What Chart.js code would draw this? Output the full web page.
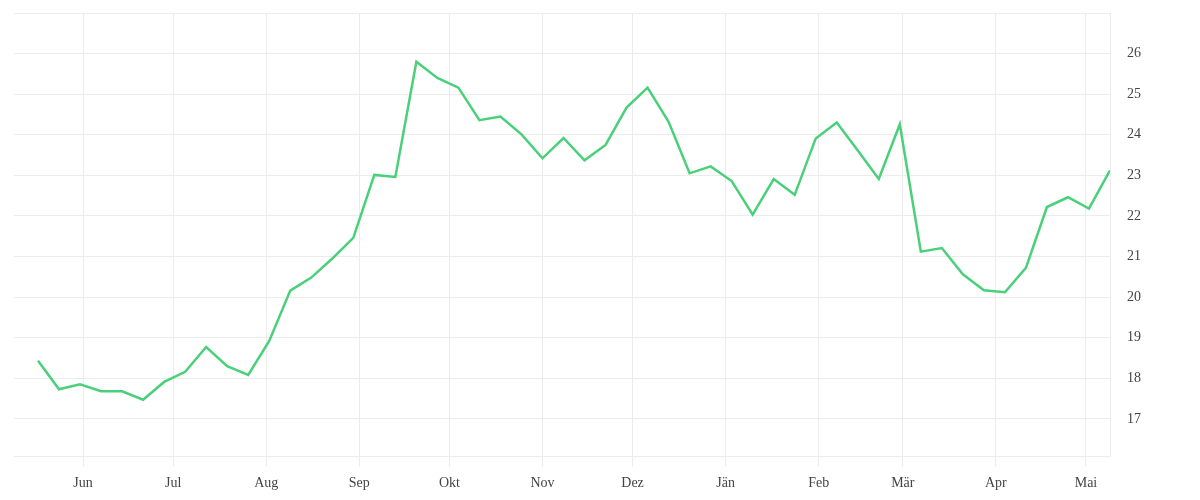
<!DOCTYPE html>
<html>
<head>
<meta charset="utf-8">
<script src="https://cdn.jsdelivr.net/npm/chart.js@4/dist/chart.umd.min.js"></script>
<style>
    html, body { margin: 0; padding: 0; background: #fff; }
    #wrap { width: 1200px; height: 500px; }
</style>
</head>
<body>
<div id="wrap"><canvas id="lineChart"></canvas></div>
<script>
// weekly points
var weekDates = [
    '2022-05-17', '2022-05-24', '2022-05-31', '2022-06-07', '2022-06-14', '2022-06-21', '2022-06-28',
    '2022-07-05', '2022-07-12', '2022-07-19', '2022-07-26', '2022-08-02', '2022-08-09', '2022-08-16',
    '2022-08-23', '2022-08-30', '2022-09-06', '2022-09-13', '2022-09-20', '2022-09-27', '2022-10-04',
    '2022-10-11', '2022-10-18', '2022-10-25', '2022-11-01', '2022-11-08', '2022-11-15', '2022-11-22',
    '2022-11-29', '2022-12-06', '2022-12-13', '2022-12-20', '2022-12-27', '2023-01-03', '2023-01-10',
    '2023-01-17', '2023-01-24', '2023-01-31', '2023-02-07', '2023-02-14', '2023-02-21', '2023-02-28',
    '2023-03-07', '2023-03-14', '2023-03-21', '2023-03-28', '2023-04-04', '2023-04-11', '2023-04-18',
    '2023-04-25', '2023-05-02', '2023-05-09'
];
var weekValues = [
    18.43, 17.73, 17.85, 17.68, 17.68, 17.47, 17.91,
    18.16, 18.77, 18.30, 18.08, 18.92, 20.16, 20.48,
    20.95, 21.46, 23.01, 22.96, 25.80, 25.40, 25.16,
    24.36, 24.45, 24.01, 23.42, 23.92, 23.37, 23.75,
    24.67, 25.16, 24.32, 23.05, 23.22, 22.86, 22.03,
    22.91, 22.52, 23.91, 24.30, 23.61, 22.91, 24.26,
    21.12, 21.21, 20.56, 20.17, 20.12, 20.72, 22.22,
    22.46, 22.18, 23.12
];

// x axis month ticks
var monthDates = [
    '2022-06-01', '2022-07-01', '2022-08-01', '2022-09-01', '2022-10-01', '2022-11-01',
    '2022-12-01', '2023-01-01', '2023-02-01', '2023-03-01', '2023-04-01', '2023-05-01'
];
var monthLabels = ['Jun', 'Jul', 'Aug', 'Sep', 'Okt', 'Nov', 'Dez', 'Jän', 'Feb', 'Mär', 'Apr', 'Mai'];

var rangeStart = '2022-05-09';
var rangeEnd = '2023-05-09';

function toDay(s) {
    return Date.parse(s + 'T00:00:00Z') / 86400000;
}

var points = weekDates.map((d, i) => ({ x: toDay(d), y: weekValues[i] }));
var monthTicks = monthDates.map(toDay);

var gridColor = '#ececec';
var labelFont = { family: '"Liberation Serif", serif', size: 14, lineHeight: 1.1 };

new Chart(document.getElementById('lineChart'), {
    type: 'line',
    data: {
        datasets: [{
            data: points,
            borderColor: '#4ad07a',
            borderWidth: 2.5,
            pointRadius: 0,
            tension: 0,
            fill: false
        }]
    },
    options: {
        responsive: true,
        maintainAspectRatio: false,
        animation: false,
        layout: { padding: { top: 13, bottom: 0, left: 14, right: 0 } },
        plugins: {
            legend: { display: false },
            tooltip: { enabled: false }
        },
        scales: {
            x: {
                type: 'linear',
                min: toDay(rangeStart),
                max: toDay(rangeEnd),
                afterBuildTicks: function(scale) {
                    scale.ticks = monthTicks.map(v => ({ value: v }));
                },
                grid: { color: gridColor, tickLength: 10, tickColor: gridColor },
                border: { color: gridColor },
                ticks: {
                    autoSkip: false,
                    maxRotation: 0,
                    padding: 9,
                    color: '#444',
                    font: labelFont,
                    callback: function(value) {
                        var i = monthTicks.indexOf(value);
                        return i >= 0 ? monthLabels[i] : '';
                    }
                }
            },
            y: {
                position: 'right',
                min: 16.07,
                max: 27,
                afterFit: function(scale) {
                    scale.width = 90;
                    scale.paddingTop = 0;
                    scale.paddingBottom = 0;
                },
                grid: { color: gridColor, drawTicks: false },
                border: { color: gridColor },
                ticks: {
                    stepSize: 1,
                    padding: 17,
                    color: '#444',
                    font: labelFont,
                    callback: function(value) {
                        return (Number.isInteger(value) && value >= 17 && value <= 26) ? value : '';
                    }
                }
            }
        }
    }
});
</script>
</body>
</html>
